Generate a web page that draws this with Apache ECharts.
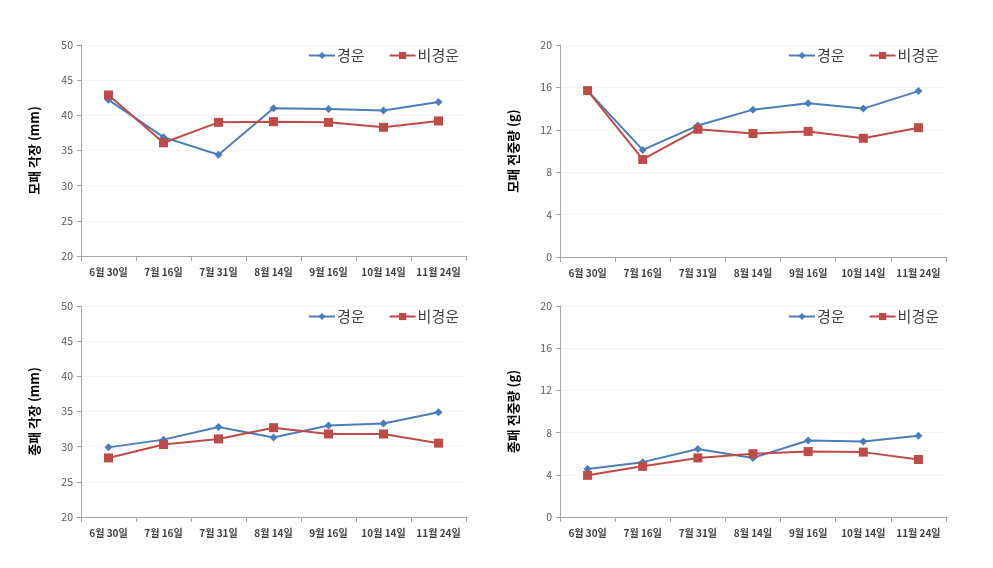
<!DOCTYPE html>
<html><head><meta charset="utf-8">
<script src="https://cdn.jsdelivr.net/npm/echarts@6/dist/echarts.min.js"></script>
<style>html,body{margin:0;padding:0;background:#fff}#c{width:993px;height:568px}</style>
</head><body><div id="c"></div>
<script>
var categories = ['6월 30일','7월 16일','7월 31일','8월 14일','9월 16일','10월 14일','11월 24일'];
var seriesNames = ['경운','비경운'];
// 모패 각장 (mm)
var p1Tilled = [42.2, 36.9, 34.4, 41.0, 40.9, 40.7, 41.9];
var p1Untilled = [42.9, 36.1, 39.0, 39.1, 39.0, 38.3, 39.2];
// 모패 전중량 (g)
var p2Tilled = [15.7, 10.1, 12.4, 13.9, 14.5, 14.0, 15.65];
var p2Untilled = [15.7, 9.2, 12.05, 11.65, 11.85, 11.2, 12.2];
// 종패 각장 (mm)
var p3Tilled = [29.9, 31.0, 32.8, 31.3, 33.0, 33.3, 34.9];
var p3Untilled = [28.4, 30.3, 31.1, 32.7, 31.8, 31.8, 30.5];
// 종패 전중량 (g)
var p4Tilled = [4.55, 5.2, 6.45, 5.6, 7.25, 7.15, 7.7];
var p4Untilled = [3.95, 4.8, 5.6, 6.0, 6.2, 6.15, 5.45];
var yNames = ['모패 각장 (mm)','모패 전중량 (g)','종패 각장 (mm)','종패 전중량 (g)'];
var yRanges = [[20,50,5],[0,20,4],[20,50,5],[0,20,4]];

var BLUE = '#4A7EBB', RED = '#BE4B48';
var FONT = '"Noto Sans CJK KR", "Noto Sans", sans-serif';
var grids = [
  {left:81, top:45, width:385, height:211},
  {left:560, top:45, width:386, height:212},
  {left:81, top:306, width:385, height:211},
  {left:560, top:306, width:386, height:211}
];
var legendPos = [{left:303, top:43},{left:783, top:43},{left:303, top:304},{left:783, top:304}];
var data = [[p1Tilled,p1Untilled],[p2Tilled,p2Untilled],[p3Tilled,p3Untilled],[p4Tilled,p4Untilled]];

var xAxes=[], yAxes=[], series=[], legends=[];
for (var i=0;i<4;i++){
  xAxes.push({type:'category', gridIndex:i, data:categories, boundaryGap:true,
    axisLine:{lineStyle:{color:'#a6a6a6'}},
    axisTick:{show:true, length:5, lineStyle:{color:'#a6a6a6'}},
    axisLabel:{color:'#404040', fontSize:10, fontWeight:'bold', fontFamily:FONT, margin:11, interval:0}
  });
  yAxes.push({type:'value', gridIndex:i, min:yRanges[i][0], max:yRanges[i][1], interval:yRanges[i][2],
    name:yNames[i], nameLocation:'middle', nameGap:40,
    nameTextStyle:{color:'#000', fontSize:13, fontWeight:'bold', fontFamily:FONT},
    axisLine:{show:true, lineStyle:{color:'#a6a6a6'}},
    axisTick:{show:true, length:4, lineStyle:{color:'#a6a6a6'}},
    axisLabel:{color:'#595959', fontSize:10.5, fontFamily:FONT, margin:8},
    splitLine:{show:true, lineStyle:{color:'#f3f3f3'}}
  });
  series.push({name:seriesNames[0], type:'line', xAxisIndex:i, yAxisIndex:i, data:data[i][0],
    symbol:'diamond', symbolSize:8, color:BLUE, lineStyle:{width:2, color:BLUE}, itemStyle:{color:BLUE}});
  series.push({name:seriesNames[1], type:'line', xAxisIndex:i, yAxisIndex:i, data:data[i][1],
    symbol:'rect', symbolSize:9, color:RED, lineStyle:{width:2, color:RED}, itemStyle:{color:RED}});
  legends.push({left:legendPos[i].left, top:legendPos[i].top, orient:'horizontal',
    itemWidth:26, itemHeight:9, itemGap:24, data:seriesNames,
    textStyle:{color:'#404040', fontSize:15, fontFamily:FONT, padding:[0,0,0,-3]}});
}
var chart = echarts.init(document.getElementById('c'));
chart.setOption({animation:false, backgroundColor:'#fff', grid:grids, xAxis:xAxes, yAxis:yAxes, series:series, legend:legends});
</script></body></html>
